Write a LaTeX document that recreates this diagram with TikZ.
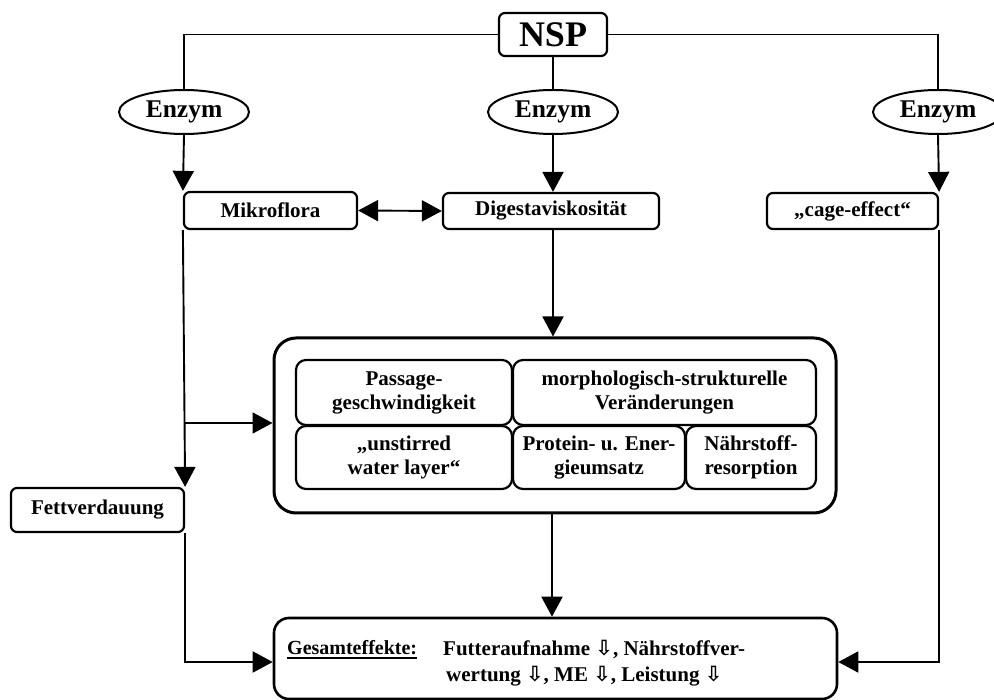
\documentclass[tikz,border=0pt]{standalone}
\usepackage{fontspec}
\setmainfont{Liberation Serif}
\newfontfamily\arrowfont{DejaVu Sans}
\usetikzlibrary{arrows.meta,shapes.geometric,calc}
\begin{document}
\begin{tikzpicture}[x=1pt,y=-1pt,
  conn/.style={line width=1.9pt},
  arr/.style={conn,-{Triangle[length=20pt,width=21pt]}},
  dbl/.style={conn,{Triangle[length=20pt,width=21pt]}-{Triangle[length=20pt,width=21pt]}},
  sbox/.style={draw,line width=2.2pt,rounded corners=6pt,inner sep=0pt,font=\bfseries\fontsize{21}{24}\selectfont,align=center},
  ibox/.style={draw,line width=2.2pt,rounded corners=10pt,inner sep=0pt,font=\bfseries\fontsize{21}{24}\selectfont,align=center},
  enz/.style={draw,ellipse,line width=2pt,minimum width=130pt,minimum height=44pt,inner sep=0pt,font=\bfseries\fontsize{25.5}{28}\selectfont},
  gtxt/.style={anchor=base west,inner sep=0pt,font=\bfseries\fontsize{21}{24}\selectfont},
]
\useasboundingbox (0,0) rectangle (994,700);
% top
\node[sbox,minimum width=108pt,minimum height=43pt,font=\bfseries\fontsize{36}{40}\selectfont] (nsp) at (553,34.5) {NSP};
\node[enz] (enzL) at (184,112) {Enzym};
\node[enz] (enzM) at (553,112) {Enzym};
\node[enz] (enzR) at (938,112) {Enzym};
% second row
\node[sbox,minimum width=173pt,minimum height=37pt] (mikro) at (270.5,210.5) {Mikroflora};
\node[sbox,minimum width=216pt,minimum height=36pt] (dig) at (551,211) {Digestaviskosität};
\node[sbox,minimum width=171pt,minimum height=36pt] (cage) at (852.5,211) {„cage-effect“};
\node[sbox,minimum width=173pt,minimum height=44pt] (fett) at (97.5,510) {Fettverdauung};
% big box
\node[draw,line width=3pt,rounded corners=22pt,minimum width=562pt,minimum height=175pt] (big) at (555,425.5) {};
\node[ibox,minimum width=216pt,minimum height=65pt] (pass) at (404,392.5) {Passage-\\geschwindigkeit};
\node[ibox,minimum width=303pt,minimum height=65pt] (morph) at (664.5,392.5) {morphologisch-strukturelle\\Veränderungen};
\node[ibox,minimum width=216pt,minimum height=63pt] (unst) at (404,457.5) {„unstirred\\water layer“};
\node[ibox,minimum width=172pt,minimum height=63pt] (prot) at (599,457.5) {Protein- u. Ener-\\gieumsatz};
\node[ibox,minimum width=130pt,minimum height=63pt] (naehr) at (751,457.5) {Nährstoff-\\resorption};
% result box
\node[draw,line width=2.6pt,rounded corners=15pt,minimum width=563pt,minimum height=81pt] (ges) at (555.5,658.5) {};
\node[anchor=base west,inner sep=0pt,font=\bfseries\fontsize{20}{24}\selectfont] (gt) at (287,654) {Gesamteffekte:};
\draw[line width=1.8pt] ($(gt.base west)+(0,4)$) -- ($(gt.base east)+(0,4)$);
\node[gtxt] (g1) at (443,655) {Futteraufnahme {\arrowfont ⇩}, Nährstoffver-};
\node[gtxt] (g2) at (446,681) {wertung {\arrowfont ⇩}, ME {\arrowfont ⇩}, Leistung {\arrowfont ⇩}};
% connectors
\draw[conn] (nsp.west) -| (enzL.north);
\draw[conn] (nsp.east) -| (enzR.north);
\draw[conn] (nsp.south) -- (nsp.south |- enzM.north);
\draw[arr] (enzL.south) -- (mikro.north west);
\draw[arr] (enzM.south) -- (enzM.south |- dig.north);
\draw[arr] (enzR.south) -- (cage.north east);
\draw[dbl] (mikro.east) -- (dig.west);
\draw[arr] (mikro.south west) -- (fett.north east);
\coordinate (br) at (184,423);
\draw[arr] (br) -- (big.west |- br);
\coordinate (dx) at (553,0);
\draw[arr] (dx |- dig.south) -- (dx |- big.north);
\coordinate (bx) at (552,0);
\draw[arr] (bx |- big.south) -- (bx |- ges.north);
\coordinate (gy) at (0,662);
\draw[arr] (fett.south east) |- (ges.west |- gy);
\draw[arr] (cage.south east) |- (ges.east |- gy);
\end{tikzpicture}
\end{document}
